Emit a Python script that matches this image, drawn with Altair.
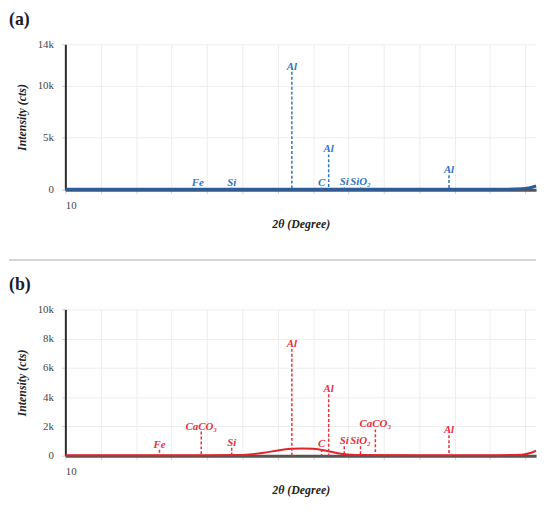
import altair as alt
import pandas as pd

FONT = "Liberation Serif"

# ---------- data ----------
x_ticks = [10, 15, 20, 25, 30, 35, 40, 45, 50, 55, 60, 65, 70, 75]

# panel (a) pattern (blue)
a_curve_theta = [10, 20, 30, 40, 50, 60, 70, 73.5, 75.5, 76.5]
a_curve_int = [40, 40, 45, 50, 50, 45, 40, 60, 170, 360]

a_phase = ["Fe", "Si", "Al", "C", "Al", "Si", "SiO₂", "Al"]
a_theta = [28.7, 33.5, 42.0, 46.2, 47.2, 49.4, 51.7, 64.2]
a_peak = [120, 200, 11350, 200, 3400, 220, 220, 1400]
a_yticks = [0, 5000, 10000, 14000]

# panel (b) pattern (red)
b_curve_theta = [10, 20, 30, 34, 36, 38, 40, 42, 43.5, 45, 46.5, 48, 49.5, 51, 60, 70, 74.5, 75.8, 76.5]
b_curve_int = [40, 40, 40, 50, 90, 200, 360, 470, 500, 470, 370, 220, 100, 50, 40, 40, 70, 200, 340]

b_phase = ["Fe", "CaCO₃", "Si", "Al", "C", "Al", "Si", "SiO₂", "CaCO₃", "Al"]
b_theta = [23.3, 29.2, 33.5, 42.0, 46.2, 47.2, 49.4, 51.7, 53.8, 64.2]
b_peak = [400, 1650, 550, 7300, 450, 4200, 650, 650, 1800, 1400]
b_yticks = [0, 2000, 4000, 6000, 8000, 10000]

W = 476


def panel(tag, ctheta, cint, phase, theta, peak, ymax, yticks, h, line_col, peak_col, sep=False):
    curve = pd.DataFrame({"theta": ctheta, "intensity": cint})
    peaks = pd.DataFrame({"theta": theta, "intensity": peak, "phase": phase})

    x = alt.X(
        "theta:Q",
        scale=alt.Scale(domain=[10, 76.5], nice=False, zero=False),
        axis=alt.Axis(
            values=x_ticks,
            labelExpr="datum.value == 10 ? '10' : ''",
            title="2θ (Degree)",
        ),
    )
    y = alt.Y(
        "intensity:Q",
        scale=alt.Scale(domain=[0, ymax], nice=False),
        axis=alt.Axis(
            values=yticks,
            labelExpr="datum.value == 0 ? '0' : (datum.value / 1000) + 'k'",
            title="Intensity (cts)",
        ),
    )

    line = alt.Chart(curve).mark_line(
        color=line_col, strokeWidth=3.0 if not sep else 2.0, interpolate="monotone"
    ).encode(x=x, y=y)

    rules = alt.Chart(peaks).mark_rule(
        color=peak_col, strokeDash=[3, 2], strokeWidth=1.5
    ).encode(x=x, y=y, y2=alt.datum(0))

    labels = alt.Chart(peaks).mark_text(
        color=peak_col, font=FONT, fontSize=11, fontStyle="italic",
        fontWeight="bold", baseline="bottom", dy=0,
    ).encode(x=x, y=y, text="phase:N")

    title = alt.Chart(pd.DataFrame({"t": [tag]})).mark_text(
        font=FONT, fontSize=18, fontWeight="bold", color="#1b1b33",
        align="left", baseline="top",
    ).encode(x=alt.value(-57), y=alt.value(-34 if not sep else -34), text="t:N")

    layers = [line, rules, labels, title]
    if not sep:
        sep_df = pd.DataFrame({"k": [0]})
        rule = alt.Chart(sep_df).mark_rule(color="#d6d6d6", strokeWidth=2).encode(
            x=alt.value(-57), x2=alt.value(W), y=alt.value(218)
        )
        layers.append(rule)

    return alt.layer(*layers).properties(width=W, height=h)


pa = panel("(a)", a_curve_theta, a_curve_int, a_phase, a_theta, a_peak,
           14000, a_yticks, 147, "#2b5c9c", "#2f73c3")
pb = panel("(b)", b_curve_theta, b_curve_int, b_phase, b_theta, b_peak,
           10000, b_yticks, 148, "#e3232c", "#e8303a", sep=True)

chart = alt.vconcat(pa, pb, spacing=15).properties(padding=0).configure_view(
    stroke=None
).configure_axis(
    labelFont=FONT, labelFontSize=11, labelColor="#444444",
    titleFont=FONT, titleFontSize=12, titleFontStyle="italic",
    titleFontWeight="bold", titleColor="#222222",
    gridColor="#ededed", gridWidth=1,
    tickColor="#d0d0d0", tickSize=4,
).configure_axisY(
    domainColor="#2a2a2a", domainWidth=2, labelPadding=8, titlePadding=9,
).configure_axisX(
    domainColor="#555555", domainWidth=3, labelPadding=6, titlePadding=8,
)

chart.save("out.html", embed_options={"renderer": "svg", "actions": False})
